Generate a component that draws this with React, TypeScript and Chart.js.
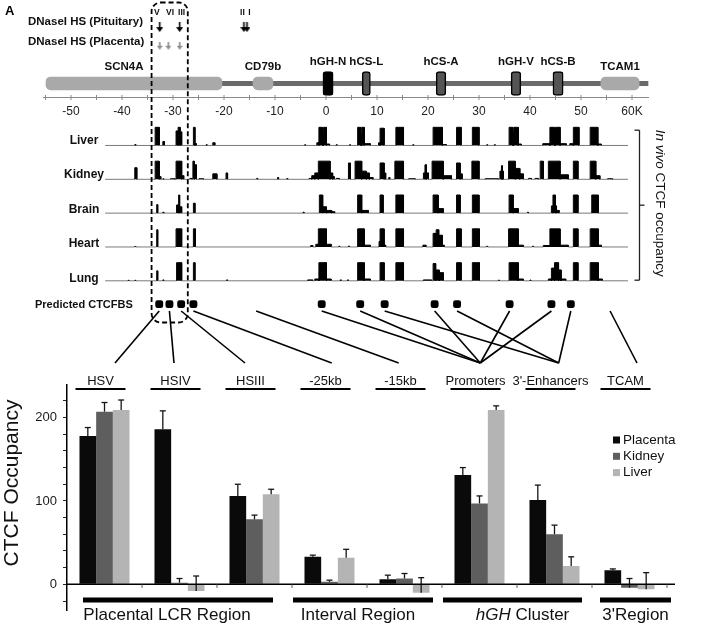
import React, { useEffect, useRef } from 'react';
import { Chart, registerables } from 'chart.js';

Chart.register(...registerables);

const FONT = '"Liberation Sans", Arial, Helvetica, sans-serif';

// ================= Bar chart data =================
const categories = ['HSV', 'HSIV', 'HSIII', '-25kb', '-15kb', 'Promoters', "3'-Enhancers", 'TCAM'];
const seriesNames = ['Placenta', 'Kidney', 'Liver'];
const placenta = [178, 186, 106, 33, 6, 131, 101, 17];
const placentaErr = [10, 22, 14, 2, 5, 9, 18, 1.5];
const kidney = [207, 2, 78, 3, 7, 97, 60, -4];
const kidneyErr = [11, 5, 5, 2, 6, 9, 11, 11];
const liver = [209, -8, 108, 32, -10, 209, 22, -6];
const liverErr = [12, 18, 6, 10, 18, 5, 11, 20];
const seriesColors = ['#0a0a0a', '#5e5e5e', '#b4b4b4'];
const yTickLabels = [0, 100, 200];
const regionNames = ['Placental LCR Region', 'Interval Region', 'hGH Cluster', "3'Region"];
const regionFirstCat = [0, 3, 5, 7];
const regionLastCat = [2, 4, 6, 7];

// ================= Genome map data (kb) =================
const axisTickKb = [-55, -50, -45, -40, -35, -30, -25, -20, -15, -10, -5, 0, 5, 10, 15, 20, 25, 30, 35, 40, 45, 50, 55, 60];
const axisLabelKb = [-50, -40, -30, -20, -10, 0, 10, 20, 30, 40, 50, 60];
const axisLabelText = ['-50', '-40', '-30', '-20', '-10', '0', '10', '20', '30', '40', '50', '60K'];

const locusKb = [-54.9, 63.2];
const flankGenes = ['SCN4A', 'CD79b', 'TCAM1'];
const flankStart = [-54.9, -14.3, 53.9];
const flankEnd = [-20.4, -10.4, 61.4];
const ghGenes = ['hGH-N', 'hCS-L', 'hCS-A', 'hGH-V', 'hCS-B'];
const ghStart = [-0.6, 7.1, 21.6, 36.3, 44.5];
const ghEnd = [1.4, 8.7, 23.5, 38.2, 46.5];
const ghColors = ['#000000', '#555555', '#555555', '#555555', '#555555'];

const hsNames = ['V', 'VI', 'III', 'II', 'I'];
const hsKb = [-32.6, -30.9, -28.7, -16.1, -15.5];
const hsPituitary = [true, false, true, true, true];
const hsPlacenta = [true, true, true, false, false];

const lcrBoxKb = [-34.2, -27.1];

const tissues = ['Liver', 'Kidney', 'Brain', 'Heart', 'Lung'];
const trackSpanKb = [-43.3, 59.2];
// [start kb, end kb, height % of track max]
const liverPeaks = [
  [-37.5, -37.3, 5], [-33.5, -32.7, 100], [-32.0, -31.7, 22],
  [-29.4, -29.0, 80], [-29.0, -28.6, 100], [-28.6, -28.3, 75],
  [-26.0, -25.7, 100], [-25.7, -25.4, 10], [-23.5, -23.3, 4], [-22.2, -21.8, 15],
  [-4.2, -4.0, 4], [-1.8, -1.4, 15], [-1.4, -0.7, 100], [-0.7, -0.5, 70], [-0.5, 0.1, 100], [0.1, 0.7, 8],
  [2.0, 2.2, 4], [4.6, 4.8, 4],
  [6.2, 6.8, 100], [6.8, 7.0, 60], [7.0, 7.5, 100], [7.5, 8.7, 10],
  [10.3, 10.6, 15], [10.6, 11.4, 95], [13.7, 15.2, 100], [17.0, 17.2, 4],
  [21.0, 22.8, 100], [22.8, 23.6, 5], [25.6, 26.5, 100], [28.7, 30.0, 100],
  [31.5, 31.7, 4], [33.0, 33.2, 4],
  [35.9, 36.6, 100], [36.6, 36.8, 70], [36.8, 37.7, 100], [37.7, 38.3, 8],
  [42.5, 43.9, 10], [43.9, 44.8, 100], [44.8, 45.0, 75], [45.0, 45.9, 100], [45.9, 47.1, 10],
  [47.8, 48.5, 10], [48.5, 49.6, 100], [51.8, 53.3, 100], [53.3, 54.0, 8],
];
const kidneyPeaks = [
  [-37.5, -37.1, 64], [-33.5, -32.7, 100], [-32.7, -32.4, 15], [-32.0, -31.8, 3], [-30.5, -29.6, 3],
  [-29.4, -28.3, 100], [-28.3, -27.9, 20], [-26.7, -26.3, 5], [-26.1, -25.8, 100], [-25.8, -25.4, 80],
  [-24.9, -24.0, 3], [-22.2, -21.4, 30], [-19.6, -19.3, 35], [-13.6, -13.4, 5], [-9.5, -9.3, 10], [-7.7, -7.5, 4],
  [-3.3, -2.8, 5], [-2.8, -2.2, 20], [-2.2, -1.5, 35], [-1.5, 0.8, 100], [0.8, 1.3, 35], [1.3, 1.6, 15],
  [2.0, 2.6, 5], [4.4, 4.8, 90],
  [5.7, 7.0, 100], [7.0, 7.9, 45], [7.9, 8.5, 35], [8.5, 9.2, 10],
  [10.6, 11.4, 90], [11.4, 11.7, 35], [12.3, 12.5, 10], [13.5, 15.2, 100], [16.2, 17.5, 3],
  [19.1, 19.4, 35], [19.4, 19.7, 80], [19.7, 20.1, 35],
  [20.8, 23.0, 100], [23.0, 24.6, 20], [25.6, 26.3, 90], [26.3, 26.7, 30], [28.6, 30.0, 100], [31.2, 33.8, 3],
  [34.1, 34.4, 45], [34.4, 34.6, 75], [34.6, 34.8, 45],
  [35.8, 37.1, 100], [37.1, 38.0, 60], [38.0, 38.7, 30], [39.7, 40.3, 5], [41.0, 41.6, 5],
  [42.0, 42.6, 100], [43.6, 45.9, 100], [45.9, 47.5, 25], [48.5, 49.4, 100],
  [51.8, 52.9, 100], [52.9, 53.7, 20], [55.2, 56.2, 3],
];
const brainPeaks = [
  [-33.2, -33.0, 47], [-32.0, -31.8, 5],
  [-29.3, -28.9, 45], [-28.9, -28.7, 100], [-28.7, -28.3, 35], [-26.0, -25.7, 55],
  [-4.5, -4.3, 5], [-1.3, -0.65, 100], [-0.65, 0.1, 35], [0.1, 1.1, 15], [1.1, 1.7, 8],
  [6.2, 7.0, 100], [7.0, 8.3, 15], [10.6, 11.2, 100], [13.7, 15.2, 100],
  [21.0, 22.0, 100], [22.0, 23.0, 25], [25.6, 26.3, 100], [28.7, 30.0, 100],
  [35.9, 36.7, 100], [36.7, 37.7, 25], [39.5, 39.7, 5],
  [44.2, 44.5, 40], [44.5, 45.0, 100], [45.0, 45.2, 40], [45.2, 45.7, 15],
  [48.5, 49.4, 100], [52.1, 53.4, 100],
];
const heartPeaks = [
  [-37.5, -37.3, 3], [-33.2, -33.0, 95], [-29.4, -28.3, 100], [-26.0, -25.6, 100],
  [-3.0, -2.6, 8], [-2.0, -1.5, 15], [-1.5, 0.1, 100], [0.1, 1.0, 15], [2.5, 2.7, 4], [4.4, 4.6, 5],
  [6.2, 7.5, 100], [7.5, 8.7, 10], [10.4, 10.6, 30], [10.6, 11.4, 100], [11.4, 11.7, 10],
  [13.7, 15.2, 100], [19.0, 19.6, 10],
  [21.0, 21.6, 75], [21.6, 22.1, 95], [22.1, 22.8, 65], [22.8, 23.2, 10],
  [25.6, 26.5, 100], [28.7, 30.1, 100], [31.5, 31.7, 4],
  [35.8, 37.7, 100], [37.7, 38.7, 10], [40.5, 40.7, 4], [42.6, 43.9, 8],
  [43.9, 45.9, 100], [45.9, 47.5, 10], [48.5, 49.4, 100], [51.8, 53.4, 100], [53.4, 54.0, 10],
];
const lungPeaks = [
  [-38.8, -38.6, 3], [-37.5, -37.3, 3], [-33.2, -33.0, 55], [-32.0, -31.8, 5],
  [-29.3, -28.3, 100], [-26.0, -25.7, 100], [-19.5, -19.3, 5],
  [-3.6, -2.6, 5], [-2.2, -1.4, 10], [-1.4, 0.1, 100], [0.1, 1.0, 10], [2.8, 3.0, 5], [4.2, 4.4, 5],
  [6.2, 7.5, 100], [7.5, 8.7, 10], [10.6, 11.4, 100], [13.7, 15.2, 100], [19.1, 20.7, 5],
  [21.0, 21.5, 95], [21.5, 22.2, 60], [22.2, 23.0, 45],
  [25.6, 26.5, 100], [28.7, 30.1, 100], [33.8, 34.0, 4],
  [35.9, 37.7, 100], [37.7, 38.7, 10], [40.0, 40.2, 4],
  [43.6, 44.2, 10], [44.2, 44.8, 70], [44.8, 45.6, 100], [45.6, 46.1, 60], [46.1, 47.0, 10],
  [48.5, 49.4, 100], [51.8, 53.4, 100], [53.4, 54.2, 10],
];
const trackPeaks = [liverPeaks, kidneyPeaks, brainPeaks, heartPeaks, lungPeaks];

const ctcfSitesKb = [-32.7, -30.7, -28.4, -26.0, -0.84, 6.7, 11.5, 21.3, 25.7, 36.0, 44.2, 48.0];
const linkFromKb = [-32.7, -30.7, -28.4, -26.0, -13.7, -0.84, 6.7, 21.3, 36.0, 44.2, 11.5, 25.7, 48.0, 55.7];
const linkToCat = [0, 1, 2, 3, 4, 5, 5, 5, 5, 5, 6, 6, 6, 7];

// ================= Layout constants (pixels) =================
const W = 704;
const H = 624;
const KB_PX = 5.1;
const ZERO_X = 326;
const G_LEFT = 43;
const G_RIGHT = 649;
const ROW_PIT = 21.5;
const ROW_PLAC = 40.5;
const ROW_GENE = 79;
const ROW_AXIS = 97.5;
const ROW_CTCF = 304;
const TRACK_BASE = [142.2, 176.7, 211.2, 245.7, 280.2];
const TRACK_PX_PER_UNIT = 18.5 / 100;
const HS_LABEL_DX = [-3, 1.6, 2, -1.5, 2.5];
const FLANK_LABEL_DX = [-10, 0, 0];
const LINK_END_DX = [10.5, -5.5, -9.5, 2.2, -5.8, 0.8, 4.2, 7.5];
const REGION_INSET = [[16, 19], [1, 9], [1, 10], [8, -4]];
const REGION_LABEL_DX = [-11, -5, 10, 0];

function txt(ctx: any, s: string, x: number, y: number, font: string, align = 'center', base = 'middle', color = '#111') {
  ctx.font = font;
  ctx.textAlign = align;
  ctx.textBaseline = base;
  ctx.fillStyle = color;
  ctx.fillText(s, x, y);
}
function seg(ctx: any, x1: number, y1: number, x2: number, y2: number) {
  ctx.beginPath();
  ctx.moveTo(x1, y1);
  ctx.lineTo(x2, y2);
  ctx.stroke();
}
function mixed(ctx: any, parts: [string, string][], cx: number, y: number, base: string, color = '#111') {
  let total = 0;
  parts.forEach(([s, f]) => { ctx.font = f; total += ctx.measureText(s).width; });
  let x = cx - total / 2;
  ctx.textAlign = 'left';
  ctx.textBaseline = base;
  ctx.fillStyle = color;
  parts.forEach(([s, f]) => { ctx.font = f; ctx.fillText(s, x, y); x += ctx.measureText(s).width; });
}

function buildTrackPoints(peaks: number[][]) {
  const pts: { x: number; y: number }[] = [{ x: trackSpanKb[0], y: 0 }];
  const sorted = [...peaks].sort((a, b) => a[0] - b[0]);
  for (const [s, e, h] of sorted) {
    pts.push({ x: s, y: 0 }, { x: s, y: h }, { x: e, y: h }, { x: e, y: 0 });
  }
  pts.push({ x: trackSpanKb[1], y: 0 });
  return pts;
}

function makeArrow(color: string, w: number, h: number, head: number) {
  const c = document.createElement('canvas');
  c.width = w;
  c.height = h;
  const g = c.getContext('2d')!;
  g.fillStyle = color;
  g.fillRect(w / 2 - 0.8, 0, 1.6, h - head + 0.5);
  g.beginPath();
  g.moveTo(0, h - head);
  g.lineTo(w, h - head);
  g.lineTo(w / 2, h);
  g.closePath();
  g.fill();
  return c;
}

function barConfig(): any {
  const values = [placenta, kidney, liver];
  const errs = [placentaErr, kidneyErr, liverErr];
  const plugin = {
    id: 'barDeco',
    afterDatasetsDraw(chart: any) {
      const ctx = chart.ctx;
      const xs = chart.scales.x;
      const ys = chart.scales.y;
      const area = chart.chartArea;
      ctx.save();
      // error bars
      ctx.strokeStyle = '#151515';
      ctx.lineWidth = 1.3;
      values.forEach((vals, d) => {
        const meta = chart.getDatasetMeta(d);
        vals.forEach((v, i) => {
          const el = meta.data[i];
          const yv = ys.getPixelForValue(v);
          const yt = ys.getPixelForValue(v + errs[d][i]);
          seg(ctx, el.x, yv, el.x, yt);
          seg(ctx, el.x - 3, yt, el.x + 3, yt);
        });
      });
      // zero line with category boundary ticks
      const y0 = ys.getPixelForValue(0);
      ctx.strokeStyle = '#000';
      ctx.lineWidth = 1.5;
      seg(ctx, area.left, y0, area.right + 8, y0);
      ctx.lineWidth = 1;
      ctx.strokeStyle = '#555';
      for (let i = 1; i <= categories.length; i++) {
        const xb = xs.getPixelForValue(i - 0.5);
        seg(ctx, xb, y0, xb, y0 + 3.5);
      }
      // group headers with underlines
      ctx.strokeStyle = '#000';
      ctx.lineWidth = 2;
      categories.forEach((c, i) => {
        const cx = xs.getPixelForValue(i) - 4;
        txt(ctx, c, cx, 385, `13px ${FONT}`, 'center', 'alphabetic', '#111');
        seg(ctx, cx - 25, 389, cx + 25, 389);
      });
      // legend
      chart.data.datasets.forEach((ds: any, i: number) => {
        const ly = 440 + 16.3 * i;
        ctx.fillStyle = ds.backgroundColor;
        ctx.fillRect(613, ly - 3.5, 7, 7);
        txt(ctx, ds.label, 623, ly, `13.5px ${FONT}`, 'left', 'middle', '#111');
      });
      // region bars
      regionNames.forEach((name, r) => {
        const left = xs.getPixelForValue(regionFirstCat[r] - 0.5) + REGION_INSET[r][0];
        const right = xs.getPixelForValue(regionLastCat[r] + 0.5) - REGION_INSET[r][1];
        ctx.fillStyle = '#000';
        ctx.fillRect(left, 597.5, right - left, 5);
        const cx = (left + right) / 2 + REGION_LABEL_DX[r];
        if (name.startsWith('hGH')) {
          mixed(ctx, [['hGH', `italic 17px ${FONT}`], [name.slice(3), `17px ${FONT}`]], cx, 620, 'alphabetic');
        } else {
          txt(ctx, name, cx, 620, `17px ${FONT}`, 'center', 'alphabetic', '#111');
        }
      });
      // y title
      ctx.save();
      ctx.translate(12, 483);
      ctx.rotate(-Math.PI / 2);
      txt(ctx, 'CTCF Occupancy', 0, 0, `21px ${FONT}`, 'center', 'middle', '#111');
      ctx.restore();
      ctx.restore();
    },
  };
  return {
    type: 'bar',
    data: {
      labels: categories,
      datasets: seriesNames.map((n, i) => ({
        label: n,
        data: [placenta, kidney, liver][i],
        backgroundColor: seriesColors[i],
        borderWidth: 0,
        categoryPercentage: 0.667,
        barPercentage: 1,
      })),
    },
    options: {
      responsive: false,
      animation: false,
      events: [],
      layout: { padding: { left: 0, right: W - 667, top: 385, bottom: H - 615 } },
      plugins: { legend: { display: false }, tooltip: { enabled: false } },
      scales: {
        x: { display: false },
        y: {
          min: -31,
          max: 239,
          afterFit: (s: any) => { s.width = 67; },
          border: { display: true, color: '#000', width: 1.5 },
          grid: { drawOnChartArea: false, tickLength: 4, color: '#222', lineWidth: 1 },
          ticks: {
            stepSize: 20,
            includeBounds: false,
            autoSkip: false,
            padding: 6,
            color: '#1a1a1a',
            font: { family: FONT, size: 13 },
            callback: (v: any) => (yTickLabels.includes(v) ? String(v) : ''),
          },
        },
      },
    },
    plugins: [plugin],
  };
}

function genomeConfig(barChart: any): any {
  const arrowPit = makeArrow('#000', 7, 10, 5);
  const arrowPlac = makeArrow('#8c8c8c', 6, 8, 4);
  const trackScales: any = {};
  TRACK_BASE.forEach((b, i) => {
    trackScales['yT' + i] = {
      axis: 'y', type: 'linear', display: false, offset: false,
      min: -(H - b) / TRACK_PX_PER_UNIT, max: b / TRACK_PX_PER_UNIT,
    };
  });
  const datasets: any[] = [
    {
      type: 'line', label: 'locus',
      data: [{ x: locusKb[0], y: ROW_GENE }, { x: locusKb[1], y: ROW_GENE }],
      xAxisID: 'x', yAxisID: 'yRows', borderColor: '#6a6a6a', borderWidth: 5,
      pointRadius: 0, fill: false, order: 6,
    },
    ...tissues.map((t, i) => ({
      type: 'line', label: t, data: buildTrackPoints(trackPeaks[i]),
      xAxisID: 'x', yAxisID: 'yT' + i,
      borderColor: '#000', borderWidth: 1, backgroundColor: '#000', fill: 'origin',
      pointRadius: 0, tension: 0, order: 5,
      segment: {
        borderColor: (c: any) => (c.p0.parsed.y === 0 && c.p1.parsed.y === 0 ? '#7a7a7a' : '#000'),
      },
    })),
    {
      type: 'bar', label: 'flanking genes', indexAxis: 'y',
      data: flankGenes.map((g, i) => ({ x: [flankStart[i], flankEnd[i]], y: ROW_GENE })),
      xAxisID: 'x', yAxisID: 'yRows', backgroundColor: '#a9a9a9', borderWidth: 0,
      borderRadius: 5, borderSkipped: false, barThickness: 13, grouped: false, order: 4,
    },
    {
      type: 'bar', label: 'hGH genes', indexAxis: 'y',
      data: ghGenes.map((g, i) => ({ x: [ghStart[i], ghEnd[i]], y: ROW_GENE })),
      xAxisID: 'x', yAxisID: 'yRows', backgroundColor: ghColors, borderColor: '#000', borderWidth: 1.5,
      borderRadius: 3, borderSkipped: false, barThickness: 24, grouped: false, order: 3,
    },
    {
      type: 'scatter', label: 'DNaseI HS pituitary',
      data: hsKb.filter((_, i) => hsPituitary[i]).map((kb) => ({ x: kb, y: ROW_PIT })),
      xAxisID: 'x', yAxisID: 'yRows', pointStyle: arrowPit, pointRadius: 5, order: 1,
    },
    {
      type: 'scatter', label: 'DNaseI HS placenta',
      data: hsKb.filter((_, i) => hsPlacenta[i]).map((kb) => ({ x: kb, y: ROW_PLAC })),
      xAxisID: 'x', yAxisID: 'yRows', pointStyle: arrowPlac, pointRadius: 5, order: 1,
    },
    {
      type: 'scatter', label: 'Predicted CTCFBS',
      data: ctcfSitesKb.map((kb) => ({ x: kb, y: ROW_CTCF })),
      xAxisID: 'x', yAxisID: 'yRows', pointStyle: 'rectRounded', pointRadius: 4.6,
      backgroundColor: '#000', borderColor: '#000', borderWidth: 0, order: 1,
    },
  ];

  const plugin = {
    id: 'genomeDeco',
    afterDraw(chart: any) {
      const ctx = chart.ctx;
      const xs = chart.scales.x;
      const px = (kb: number) => xs.getPixelForValue(kb);
      ctx.save();
      txt(ctx, 'A', 5, 15, `bold 13px ${FONT}`, 'left', 'alphabetic', '#000');
      txt(ctx, 'DNaseI HS (Pituitary)', 28, ROW_PIT + 0.5, `bold 11.5px ${FONT}`, 'left', 'middle', '#111');
      txt(ctx, 'DNaseI HS (Placenta)', 28, ROW_PLAC + 1, `bold 11.5px ${FONT}`, 'left', 'middle', '#111');
      hsNames.forEach((n, i) => txt(ctx, n, px(hsKb[i]) + HS_LABEL_DX[i], 12.5, `bold 8.5px ${FONT}`, 'center', 'middle', '#111'));
      // gene labels
      flankGenes.forEach((g, i) => txt(ctx, g, px((flankStart[i] + flankEnd[i]) / 2) + FLANK_LABEL_DX[i], 69.5, `bold 11.5px ${FONT}`, 'center', 'alphabetic', '#111'));
      ghGenes.forEach((g, i) => txt(ctx, g, px((ghStart[i] + ghEnd[i]) / 2), 64.5, `bold 11.5px ${FONT}`, 'center', 'alphabetic', '#111'));
      // coordinate axis
      ctx.strokeStyle = '#8a8a8a';
      ctx.lineWidth = 1;
      seg(ctx, chart.chartArea.left, ROW_AXIS, chart.chartArea.right, ROW_AXIS);
      axisTickKb.forEach((kb) => seg(ctx, px(kb), ROW_AXIS - 2.5, px(kb), ROW_AXIS + 2.5));
      axisLabelKb.forEach((kb, i) => txt(ctx, axisLabelText[i], px(kb), 112, `12px ${FONT}`, 'center', 'middle', '#222'));
      // track labels
      tissues.forEach((t, i) => txt(ctx, t, 84, TRACK_BASE[i] - 2, `bold 12px ${FONT}`, 'center', 'middle', '#111'));
      // bracket + rotated label
      ctx.strokeStyle = '#222';
      ctx.lineWidth = 1.3;
      const bx = 639.5;
      const bTop = TRACK_BASE[0] - 12;
      const bBot = TRACK_BASE[4];
      const bMid = (bTop + bBot) / 2;
      seg(ctx, bx, bTop, bx, bBot);
      seg(ctx, bx - 5, bTop, bx, bTop);
      seg(ctx, bx - 5, bBot, bx, bBot);
      seg(ctx, bx, bMid, bx + 5, bMid);
      ctx.save();
      ctx.translate(659.5, bMid - 2);
      ctx.rotate(Math.PI / 2);
      mixed(ctx, [['In vivo', `italic 13.5px ${FONT}`], [' CTCF occupancy', `13.5px ${FONT}`]], 0, 0, 'middle');
      ctx.restore();
      // predicted CTCFBS label
      txt(ctx, 'Predicted CTCFBS', 35, ROW_CTCF + 1, `bold 11px ${FONT}`, 'left', 'middle', '#111');
      // dashed LCR box
      ctx.save();
      ctx.setLineDash([5, 3]);
      ctx.strokeStyle = '#000';
      ctx.lineWidth = 1.8;
      const l = px(lcrBoxKb[0]);
      const r = px(lcrBoxKb[1]);
      ctx.beginPath();
      ctx.roundRect(l, 2.5, r - l, 320, 9);
      ctx.stroke();
      ctx.restore();
      // links to bar chart groups
      const cx = barChart.scales.x;
      ctx.strokeStyle = '#000';
      ctx.lineWidth = 1.6;
      linkFromKb.forEach((kb, i) => {
        const c = linkToCat[i];
        seg(ctx, px(kb), 311, cx.getPixelForValue(c) + LINK_END_DX[c], 363);
      });
      ctx.restore();
    },
  };

  return {
    type: 'line',
    data: { datasets },
    options: {
      responsive: false,
      animation: false,
      events: [],
      layout: { padding: { left: G_LEFT, right: W - G_RIGHT, top: 0, bottom: 0 } },
      plugins: { legend: { display: false }, tooltip: { enabled: false } },
      scales: {
        x: { type: 'linear', display: false, offset: false, min: (G_LEFT - ZERO_X) / KB_PX, max: (G_RIGHT - ZERO_X) / KB_PX },
        yRows: { axis: 'y', type: 'linear', display: false, offset: false, reverse: true, min: 0, max: H },
        ...trackScales,
      },
    },
    plugins: [plugin],
  };
}

export default function App() {
  const barRef = useRef<HTMLCanvasElement>(null);
  const genRef = useRef<HTMLCanvasElement>(null);
  useEffect(() => {
    const bar = new Chart(barRef.current!, barConfig());
    const gen = new Chart(genRef.current!, genomeConfig(bar));
    return () => {
      gen.destroy();
      bar.destroy();
    };
  }, []);
  return (
    <div style={{ position: 'absolute', left: 0, top: 0, width: W, height: H, background: '#fff' }}>
      <canvas ref={barRef} width={W} height={H} style={{ position: 'absolute', left: 0, top: 0 }} />
      <canvas ref={genRef} width={W} height={H} style={{ position: 'absolute', left: 0, top: 0 }} />
    </div>
  );
}
